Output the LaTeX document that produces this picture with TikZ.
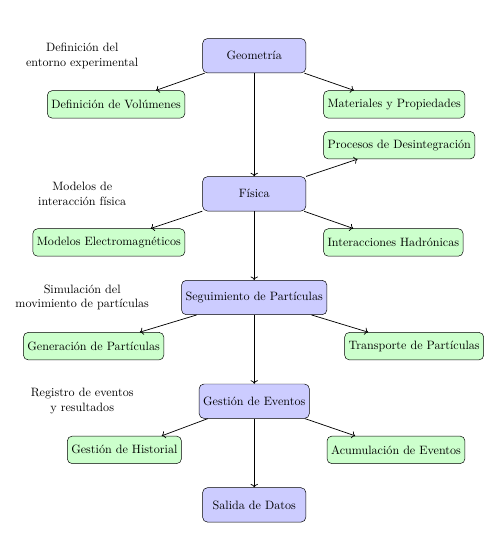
\documentclass[tikz,border=0pt]{standalone}
\usepackage{tikz}
\usetikzlibrary{positioning, arrows.meta}

\begin{document}
\begin{tikzpicture}[
    >=To,
    node distance=2cm,
    principal/.style={rectangle, rounded corners, draw, fill=blue!20, minimum width=3cm, minimum height=1cm},
    secundario/.style={rectangle, rounded corners, draw, fill=green!20, minimum height=0.8cm},
    nota/.style={align=center},
    flecha/.style={->, semithick}
]
\useasboundingbox (-7.39,1.62) rectangle (7.2,-14.6);

% Bloques principales
\node[principal] (geo) at (0,0) {Geometría};
\node[principal, below=3cm of geo] (fis) {Física};
\node[principal, below=of fis] (seg) {Seguimiento de Partículas};
\node[principal, below=of seg] (gev) {Gestión de Eventos};
\node[principal, below=of gev] (sal) {Salida de Datos};

% Bloques secundarios
\node[secundario, below left=0.5cm and 0.5cm of geo] (vol) {Definición de Volúmenes};
\node[secundario, below right=0.5cm and 0.5cm of geo] (mat) {Materiales y Propiedades};
\node[secundario, above right=0.5cm and 0.5cm of fis] (desint) {Procesos de Desintegración};
\node[secundario, below left=0.5cm and 0.5cm of fis] (em) {Modelos Electromagnéticos};
\node[secundario, below right=0.5cm and 0.5cm of fis] (had) {Interacciones Hadrónicas};
\node[secundario, below left=0.5cm and 0.5cm of seg] (gen) {Generación de Partículas};
\node[secundario, below right=0.5cm and 0.5cm of seg] (trans) {Transporte de Partículas};
\node[secundario, below left=0.5cm and 0.5cm of gev] (hist) {Gestión de Historial};
\node[secundario, below right=0.5cm and 0.5cm of gev] (acum) {Acumulación de Eventos};

% Notas
\node[nota] (ngeo) at ([xshift=-5cm]geo.center) {Definición del\\entorno experimental};
\node[nota] (nfis) at ([xshift=-5cm]fis.center) {Modelos de\\interacción física};
\node[nota] (nseg) at ([xshift=-5cm]seg.center) {Simulación del\\movimiento de partículas};
\node[nota] (ngev) at ([xshift=-5cm]gev.center) {Registro de eventos\\y resultados};

% Flujo principal
\path[flecha] (geo) edge (fis);
\path[flecha] (fis) edge (seg);
\path[flecha] (seg) edge (gev);
\path[flecha] (gev) edge (sal);

% Ramas
\path[flecha] (geo) edge (vol);
\path[flecha] (geo) edge (mat);
\path[flecha] (fis) edge (desint);
\path[flecha] (fis) edge (em);
\path[flecha] (fis) edge (had);
\path[flecha] (seg) edge (gen);
\path[flecha] (seg) edge (trans);
\path[flecha] (gev) edge (hist);
\path[flecha] (gev) edge (acum);

\end{tikzpicture}
\end{document}
